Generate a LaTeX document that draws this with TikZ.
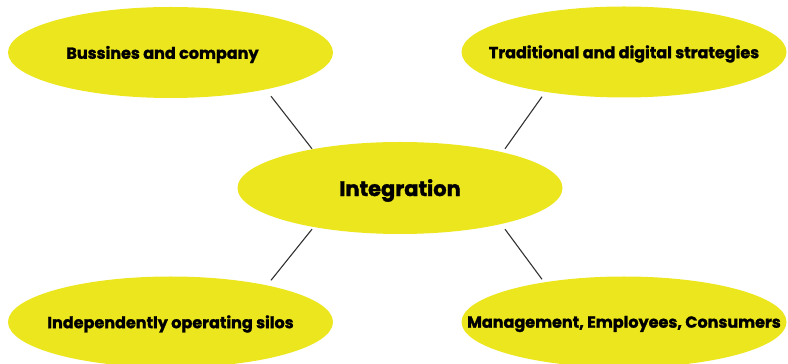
\documentclass[tikz,border=0pt]{standalone}
\usepackage{fontspec}
\setmainfont{Poppins}[BoldFont={* Bold}, BoldFeatures={FakeBold=1.5}]
\usetikzlibrary{shapes.geometric}
\definecolor{ellfill}{RGB}{236,230,30}
\definecolor{linkcol}{RGB}{50,50,50}
\tikzset{
  bubble/.style={ellipse, fill=ellfill, draw=none, minimum width=325pt, minimum height=91pt, inner sep=0pt},
  txt/.style={font=\bfseries\fontsize{16}{19}\selectfont, text=black},
  bigtxt/.style={font=\bfseries\fontsize{21}{24}\selectfont, text=black},
  link/.style={draw=linkcol, line width=1.1pt}
}
\begin{document}
\begin{tikzpicture}[x=1pt,y=1pt]
\useasboundingbox (0,0) rectangle (788,364);
\node[bubble] (tl) at (170.5,311.5) {};
\node[bubble] (tr) at (624,312) {};
\node[bubble, minimum height=92pt] (c) at (400,176) {};
\node[bubble] (bl) at (170.5,42) {};
\node[bubble] (br) at (624,42) {};
\node[txt] (tlt) at ([shift={(-8pt,-2pt)}]tl.center) {Bussines and company};
\node[txt] (trt) at ([yshift=-2pt]tr.center) {Traditional and digital strategies};
\node[bigtxt] (ct) at ([yshift=-2.5pt]c.center) {Integration};
\node[txt] (blt) at ([yshift=-2pt]bl.center) {Independently operating silos};
\node[txt] (brt) at ([yshift=-2pt]br.center) {Management, Employees, Consumers};
\draw[link] ([shift={(100.5pt,2pt)}]tl.south) -- ([shift={(-88pt,-7pt)}]c.north);
\draw[link] ([shift={(-82pt,1pt)}]tr.south) -- ([shift={(105pt,-7pt)}]c.north);
\draw[link] ([shift={(-88pt,5pt)}]c.south) -- ([shift={(100.5pt,-4pt)}]bl.north);
\draw[link] ([shift={(105pt,5pt)}]c.south) -- ([shift={(-82pt,-3pt)}]br.north);
\end{tikzpicture}
\end{document}
